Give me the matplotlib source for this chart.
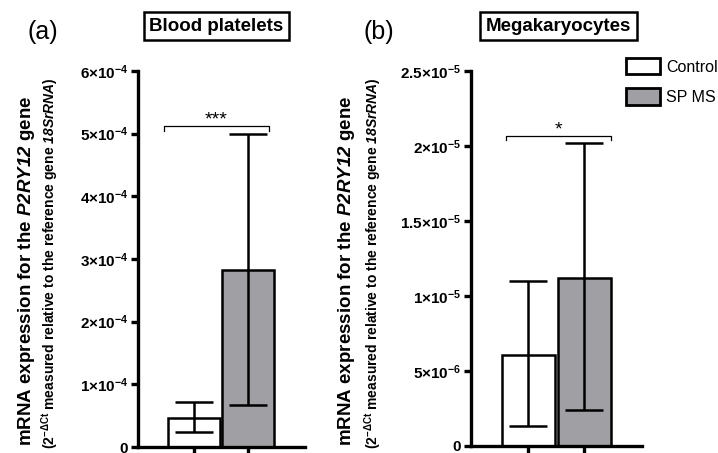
import numpy as np
import matplotlib
matplotlib.use("Agg")
import matplotlib.pyplot as plt
from matplotlib.patches import Patch

plt.rcParams.update({
    "font.family": ["Liberation Sans", "DejaVu Sans"],
    "mathtext.fontset": "custom",
    "mathtext.rm": "Liberation Sans:bold",
    "mathtext.bf": "Liberation Sans:bold",
    "mathtext.it": "Liberation Sans:italic",
    "mathtext.bfit": "Liberation Sans:bold:italic",
    "mathtext.sf": "Liberation Sans:bold",
})

# Group means and error ranges (low / high end of each error bar)
groups = ["Control", "SP MS"]
colors = ["white", "#a0a0a4"]

platelet_mean = [4.6e-5, 2.82e-4]
platelet_low = [2.4e-5, 6.7e-5]
platelet_high = [7.2e-5, 5.0e-4]

mk_mean = [6.1e-6, 1.12e-5]
mk_low = [1.3e-6, 2.4e-6]
mk_high = [1.1e-5, 2.02e-5]

platelet_ticks = [0, 1e-4, 2e-4, 3e-4, 4e-4, 5e-4, 6e-4]
platelet_ticklabels = ["0", r"$\mathbf{1{\times}10^{-4}}$", r"$\mathbf{2{\times}10^{-4}}$",
                       r"$\mathbf{3{\times}10^{-4}}$", r"$\mathbf{4{\times}10^{-4}}$",
                       r"$\mathbf{5{\times}10^{-4}}$", r"$\mathbf{6{\times}10^{-4}}$"]
mk_ticks = [0, 5e-6, 1e-5, 1.5e-5, 2e-5, 2.5e-5]
mk_ticklabels = ["0", r"$\mathbf{5{\times}10^{-6}}$", r"$\mathbf{1{\times}10^{-5}}$",
                 r"$\mathbf{1.5{\times}10^{-5}}$", r"$\mathbf{2{\times}10^{-5}}$",
                 r"$\mathbf{2.5{\times}10^{-5}}$"]

# significance brackets: height, left x, right x, label
platelet_sig = (5.12e-4, -0.55, 1.38, "***")
mk_sig = (2.07e-5, -0.40, 1.47, "*")

ylabel_main = r"mRNA expression for the $\mathbfit{P2RY12}$ gene"
ylabel_sub = r"($\mathbf{2^{-\Delta Ct}}$ measured relative to the reference gene $\mathbfit{18SrRNA}$)"

fig = plt.figure(figsize=(7.18, 4.53), dpi=100)
ax_a = fig.add_axes([0.192, 0.0132, 0.2326, 0.830])
ax_b = fig.add_axes([0.656, 0.0155, 0.238, 0.8275])


def draw_panel(ax, mean, low, high, ticks, ticklabels, sig):
    x = np.arange(len(groups))
    ax.bar(x, mean, width=0.95, color=colors, edgecolor="black",
           linewidth=1.8, zorder=2)
    yerr = [np.array(mean) - np.array(low), np.array(high) - np.array(mean)]
    ax.errorbar(x, mean, yerr=yerr, fmt="none", ecolor="black",
                elinewidth=1.8, capsize=14, capthick=1.8, zorder=3)

    ax.set_xlim(-1.02, 2.03)
    ax.set_ylim(0, ticks[-1])
    ax.set_yticks(ticks)
    ax.set_yticklabels(ticklabels, fontsize=11, fontweight="bold")
    ax.set_xticks(x)
    ax.set_xticklabels([])

    for side in ["top", "right"]:
        ax.spines[side].set_visible(False)
    for side in ["left", "bottom"]:
        ax.spines[side].set_linewidth(2.4)
    ax.tick_params(axis="y", width=2.4, length=5, pad=2)
    ax.tick_params(axis="x", width=2.4, length=6)

    h, x0, x1, label = sig
    d = ticks[-1] * 0.012
    ax.plot([x0, x0, x1, x1], [h - d, h, h, h - d], color="black",
            lw=0.9, clip_on=False)
    ax.text((x0 + x1) / 2, h - d * 0.6, label, ha="center", va="bottom",
            fontsize=14)


draw_panel(ax_a, platelet_mean, platelet_low, platelet_high,
           platelet_ticks, platelet_ticklabels, platelet_sig)
draw_panel(ax_b, mk_mean, mk_low, mk_high,
           mk_ticks, mk_ticklabels, mk_sig)

# Panel titles
box = dict(boxstyle="square,pad=0.3", facecolor="white", edgecolor="black",
           linewidth=1.8)
fig.text(0.3015, 0.942, "Blood platelets", ha="center", va="center",
         fontsize=13.5, fontweight="bold", bbox=box)
fig.text(0.778, 0.942, "Megakaryocytes", ha="center", va="center",
         fontsize=13.5, fontweight="bold", bbox=box)
fig.text(0.059, 0.93, "(a)", ha="center", va="center", fontsize=18)
fig.text(0.528, 0.93, "(b)", ha="center", va="center", fontsize=18)

# Y-axis labels
for xm, xs in [(0.0376, 0.0696), (0.483, 0.5195)]:
    fig.text(xm, 0.402, ylabel_main, rotation=90, ha="center", va="center",
             fontsize=13.5, fontweight="bold")
    fig.text(xs, 0.419, ylabel_sub, rotation=90, ha="center", va="center",
             fontsize=10, fontweight="bold")

handles = [Patch(facecolor=c, edgecolor="black", linewidth=2.0) for c in colors]
fig.legend(handles, groups, loc="upper left", bbox_to_anchor=(0.872, 0.872),
           frameon=False, fontsize=11.5, handlelength=2.15, handleheight=1.2,
           labelspacing=0.85, handletextpad=0.35, borderaxespad=0, borderpad=0)

fig.savefig("out.png", dpi=100, facecolor="white")
